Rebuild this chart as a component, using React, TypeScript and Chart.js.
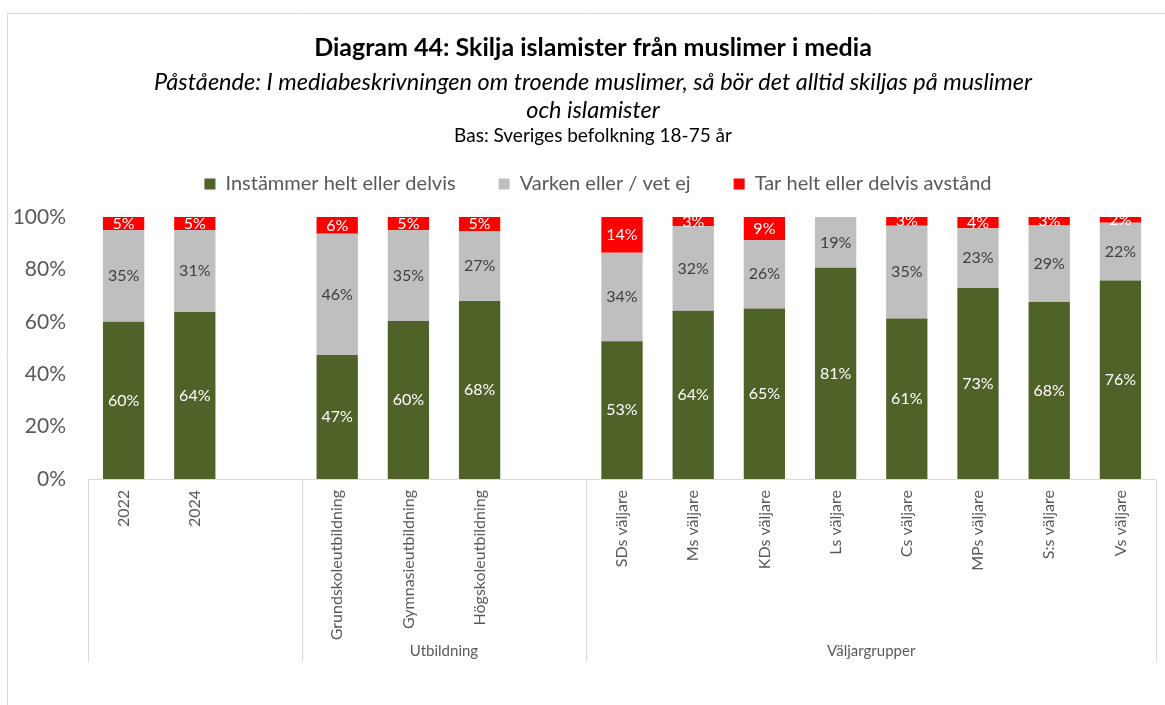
import React, { useEffect, useRef } from 'react';
import { Chart, registerables } from 'chart.js';

Chart.register(...registerables);

const categories = [
  '2022', '2024', '',
  'Grundskoleutbildning', 'Gymnasieutbildning', 'Högskoleutbildning', '',
  'SDs väljare', 'Ms väljare', 'KDs väljare', 'Ls väljare', 'Cs väljare', 'MPs väljare', 'S:s väljare', 'Vs väljare',
];
const groupLabels = ['', 'Utbildning', 'Väljargrupper'];
const groupSizes = [3, 4, 8];

const seriesNames = ['Instämmer helt eller delvis', 'Varken eller / vet ej', 'Tar helt eller delvis avstånd'];
const agree = [60.0, 63.7, null, 47.3, 60.3, 67.9, null, 52.6, 64.2, 65.1, 80.6, 61.3, 72.9, 67.6, 75.8];
const neutral = [35.0, 31.3, null, 46.3, 34.6, 26.8, null, 33.8, 32.4, 26.1, 19.4, 35.4, 22.8, 29.3, 22.0];
const distance = [5.0, 5.0, null, 6.4, 5.1, 5.3, null, 13.6, 3.4, 8.8, 0, 3.3, 4.3, 3.1, 2.2];

const yTicks = [0, 20, 40, 60, 80, 100];

const titleText = 'Diagram 44: Skilja islamister från muslimer i media';
const subtitleLines = [
  'Påstående: I mediabeskrivningen om troende muslimer, så bör det alltid skiljas på muslimer',
  'och islamister',
];
const baseText = 'Bas: Sveriges befolkning 18-75 år';

const seriesColors = ['#4F6228', '#BFBFBF', '#FF0000'];
const labelColors = ['#FFFFFF', '#404040', '#FFFFFF'];

const FONT = 'Lato';
const W = 1165;
const H = 705;
const LEGEND_TOP = 131;
const PLOT_TOP = 217;
const XAXIS_H = 183;
const YAXIS_W = 80;

const decorPlugin = {
  id: 'decor',
  beforeInit(chart: any) {
    const lg = chart.legend;
    if (lg) {
      const fit = lg.fit;
      lg.fit = function () {
        fit.call(this);
        this.height = PLOT_TOP - LEGEND_TOP;
      };
      const draw = lg.draw;
      lg.draw = function (...args: any[]) {
        const c = this.ctx;
        c.save();
        c.translate(16, 0);
        draw.apply(this, args);
        c.restore();
      };
    }
  },
  beforeDraw(chart: any) {
    const ctx = chart.ctx;
    ctx.save();
    ctx.fillStyle = '#FFFFFF';
    ctx.fillRect(0, 0, chart.width, chart.height);
    ctx.strokeStyle = '#D9D9D9';
    ctx.lineWidth = 1;
    ctx.beginPath();
    ctx.moveTo(7.5, chart.height);
    ctx.lineTo(7.5, 13.5);
    ctx.lineTo(chart.width, 13.5);
    ctx.stroke();
    ctx.restore();
  },
  afterDatasetsDraw(chart: any) {
    const ctx = chart.ctx;
    ctx.save();
    ctx.font = `16px ${FONT}`;
    ctx.textAlign = 'center';
    ctx.textBaseline = 'middle';
    chart.data.datasets.forEach((ds: any, i: number) => {
      const meta = chart.getDatasetMeta(i);
      meta.data.forEach((bar: any, j: number) => {
        const v = ds.data[j];
        if (v == null || v <= 0) return;
        const p = bar.getProps(['x', 'y', 'base'], true);
        ctx.fillStyle = labelColors[i];
        ctx.fillText(Math.round(v) + '%', p.x, (p.y + p.base) / 2);
      });
    });
    ctx.restore();
  },
  afterDraw(chart: any) {
    const ctx = chart.ctx;
    const area = chart.chartArea;
    const xs = chart.scales.x;
    ctx.save();
    // headings
    ctx.textAlign = 'center';
    ctx.textBaseline = 'middle';
    ctx.fillStyle = '#000000';
    const cx = 593;
    ctx.font = `bold 25px ${FONT}`;
    ctx.fillText(titleText, cx, 48);
    ctx.font = `italic 23.5px ${FONT}`;
    ctx.fillText(subtitleLines[0], cx, 82);
    ctx.fillText(subtitleLines[1], cx, 110);
    ctx.font = `19px ${FONT}`;
    ctx.fillText(baseText, cx, 136);

    // category axis with group separators
    ctx.strokeStyle = '#D9D9D9';
    ctx.lineWidth = 1;
    const yb = Math.round(area.bottom) + 0.5;
    const yEnd = xs.bottom;
    ctx.beginPath();
    ctx.moveTo(area.left, yb);
    ctx.lineTo(area.right, yb);
    ctx.stroke();
    const bounds: number[] = [area.left];
    let idx = 0;
    groupSizes.forEach((n, g) => {
      idx += n;
      if (g < groupSizes.length - 1) {
        bounds.push((xs.getPixelForValue(idx - 1) + xs.getPixelForValue(idx)) / 2);
      }
    });
    bounds.push(area.right);
    ctx.beginPath();
    bounds.forEach((bx) => {
      const px = Math.round(bx) + 0.5;
      ctx.moveTo(px, yb);
      ctx.lineTo(px, yEnd);
    });
    ctx.stroke();
    ctx.fillStyle = '#595959';
    ctx.font = `15px ${FONT}`;
    groupLabels.forEach((lbl, g) => {
      if (!lbl) return;
      ctx.fillText(lbl, (bounds[g] + bounds[g + 1]) / 2, yEnd - 11);
    });
    ctx.restore();
  },
};

export default function App() {
  const ref = useRef<HTMLCanvasElement | null>(null);
  useEffect(() => {
    if (!ref.current) return;
    const chart = new Chart(ref.current, {
      type: 'bar',
      data: {
        labels: categories,
        datasets: [agree, neutral, distance].map((d, i) => ({
          label: seriesNames[i],
          data: d,
          backgroundColor: seriesColors[i],
          borderWidth: 0,
          barPercentage: 0.58,
          categoryPercentage: 1,
        })),
      },
      options: {
        responsive: false,
        animation: false,
        layout: { padding: { top: LEGEND_TOP, left: 8, right: 9, bottom: H - PLOT_TOP - 262 - XAXIS_H } },
        plugins: {
          legend: {
            position: 'top',
            labels: {
              boxWidth: 11,
              boxHeight: 11,
              padding: 43,
              color: '#595959',
              font: { family: FONT, size: 20 },
            },
          },
          tooltip: { enabled: false },
          title: { display: false },
        },
        scales: {
          x: {
            stacked: true,
            grid: { display: false, drawTicks: false },
            border: { display: false },
            ticks: {
              autoSkip: false,
              minRotation: 90,
              maxRotation: 90,
              padding: 11,
              color: '#595959',
              font: { family: FONT, size: 16 },
            },
            afterFit(scale: any) {
              scale.height = XAXIS_H;
            },
          },
          y: {
            stacked: true,
            min: 0,
            max: 100,
            afterBuildTicks(scale: any) {
              scale.ticks = yTicks.map((v) => ({ value: v }));
            },
            grid: { display: false, drawTicks: false },
            border: { display: false },
            ticks: {
              padding: 22,
              color: '#595959',
              font: { family: FONT, size: 21 },
              callback: (v: any) => v + '%',
            },
            afterFit(scale: any) {
              scale.width = YAXIS_W;
            },
          },
        },
      },
      plugins: [decorPlugin],
    });
    return () => chart.destroy();
  }, []);
  return (
    <div style={{ position: 'absolute', left: 0, top: 0, width: W, height: H, background: '#fff' }}>
      <canvas ref={ref} width={W} height={H} style={{ display: 'block', width: W, height: H }} />
    </div>
  );
}
